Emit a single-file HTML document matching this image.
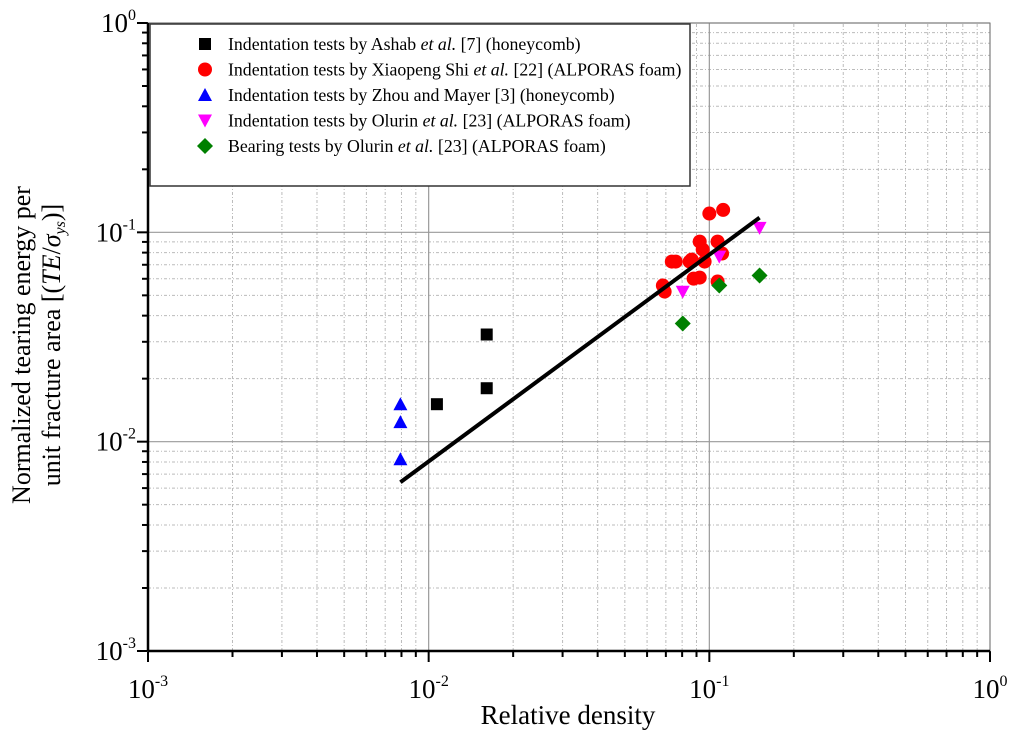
<!DOCTYPE html>
<html><head><meta charset="utf-8"><style>
html,body{margin:0;padding:0;background:#fff;}
svg text{font-family:"Liberation Serif",serif;}
</style></head><body>
<svg id="chart" width="1024" height="740" xmlns="http://www.w3.org/2000/svg">
<g id="grid"></g>
<g id="axes"></g>
<g id="marks"></g>
<g id="legend">
<rect x="150" y="24" width="540" height="162" fill="#fff" stroke="#333" stroke-width="1.5"/>
</g>
<text x="568" y="724" font-size="27" text-anchor="middle">Relative density</text>
<text transform="translate(30,345) rotate(-90)" font-size="26" text-anchor="middle">Normalized tearing energy per</text>
<text transform="translate(60,345) rotate(-90)" font-size="26" text-anchor="middle">unit fracture area [(<tspan font-style="italic">TE</tspan>/<tspan font-style="italic">σ</tspan><tspan font-style="italic" font-size="16" dy="5">ys</tspan><tspan dy="-5">)]</tspan></text>
</svg>
<script>
const ashabX=[0.0107,0.0161,0.0161];
const ashabY=[0.0151,0.0325,0.018];
const shiX=[0.0683,0.0693,0.0735,0.0759,0.0851,0.0879,0.0924,0.0947,0.0962,0.0924,0.107,0.111,0.107,0.100,0.112,0.0865];
const shiY=[0.0557,0.0521,0.0725,0.0725,0.0725,0.0601,0.0903,0.0827,0.0725,0.0608,0.0903,0.0792,0.0582,0.123,0.128,0.0741];
const zhouX=[0.00793,0.00793,0.00793];
const zhouY=[0.0151,0.0124,0.00824];
const olurinIX=[0.0804,0.1085,0.151];
const olurinIY=[0.052,0.0766,0.105];
const bearX=[0.0804,0.1085,0.151];
const bearY=[0.0367,0.0557,0.0622];
const fitX=[0.00793,0.151];
const fitY=[0.0064,0.1175];
const decades=[-3,-2,-1,0];
const tickExp=['-3','-2','-1','0'];

const NS='http://www.w3.org/2000/svg';
const X0=148,X1=990,Y0=651,Y1=23;
function xs(v){return X0+(Math.log10(v)+3)/3*(X1-X0);}
function ys(v){return Y0-(Math.log10(v)+3)/3*(Y0-Y1);}
function mk(tag,attrs,parent){const e=document.createElementNS(NS,tag);for(const k in attrs)e.setAttribute(k,attrs[k]);parent.appendChild(e);return e;}
const grid=document.getElementById('grid'),axes=document.getElementById('axes'),marks=document.getElementById('marks'),legend=document.getElementById('legend');
for(let d=-3;d<0;d++){for(let m=2;m<=9;m++){const v=m*Math.pow(10,d);
 let l=mk('line',{x1:xs(v),x2:xs(v),y1:Y0,y2:Y1,stroke:'#bbb','stroke-width':1,'stroke-dasharray':'3,2,1,2'},grid);
 
 
 l=mk('line',{x1:X0,x2:X1,y1:ys(v),y2:ys(v),stroke:'#bbb','stroke-width':1,'stroke-dasharray':'3,2,1,2'},grid);
 
 
 l=mk('line',{x1:xs(v),x2:xs(v),y1:Y0,y2:Y0+6,stroke:'#000','stroke-width':2},axes);
 
 
 l=mk('line',{x1:X0,x2:X0-6,y1:ys(v),y2:ys(v),stroke:'#000','stroke-width':2},axes);
 
 
}}
decades.forEach((d,i)=>{const v=Math.pow(10,d);
 let l=mk('line',{x1:xs(v),x2:xs(v),y1:Y0,y2:Y1,stroke:'#999','stroke-width':1.2},grid);
 
 
 l=mk('line',{x1:X0,x2:X1,y1:ys(v),y2:ys(v),stroke:'#999','stroke-width':1.2},grid);
 
 
 l=mk('line',{x1:xs(v),x2:xs(v),y1:Y0,y2:Y0+11,stroke:'#000','stroke-width':2},axes);
 
 
 l=mk('line',{x1:X0,x2:X0-11,y1:ys(v),y2:ys(v),stroke:'#000','stroke-width':2},axes);
 
 
 let t=mk('text',{x:xs(v),y:Y0+47,'font-size':27,'text-anchor':'middle'},axes);
 t.innerHTML='10<tspan font-size="16" dy="-12">'+tickExp[i]+'</tspan>';
 
 
 t=mk('text',{x:X0-12,y:ys(v)+9,'font-size':27,'text-anchor':'end'},axes);
 t.innerHTML='10<tspan font-size="16" dy="-12">'+tickExp[i]+'</tspan>';
 
 
});
let fr=mk('rect',{x:X0,y:Y1,width:X1-X0,height:Y0-Y1,fill:'none',stroke:'#777','stroke-width':1},axes);


let ax=mk('line',{x1:X0,x2:X1,y1:Y0,y2:Y0,stroke:'#000','stroke-width':2.5},axes);


ax=mk('line',{x1:X0,x2:X0,y1:Y0,y2:Y1,stroke:'#000','stroke-width':2.5},axes);


function marker(type,cx,cy,parent){let e;
 if(type==='sq')e=mk('rect',{x:cx-6,y:cy-6,width:12,height:12,fill:'#000'},parent);
 else if(type==='ci')e=mk('circle',{cx:cx,cy:cy,r:7,fill:'#f00'},parent);
 else if(type==='up')e=mk('polygon',{points:`${cx},${cy-7} ${cx-7},${cy+6} ${cx+7},${cy+6}`,fill:'#00f'},parent);
 else if(type==='dn')e=mk('polygon',{points:`${cx},${cy+7} ${cx-7},${cy-6} ${cx+7},${cy-6}`,fill:'#f0f'},parent);
 else e=mk('polygon',{points:`${cx},${cy-8} ${cx+8},${cy} ${cx},${cy+8} ${cx-8},${cy}`,fill:'#008000'},parent);
 return e;}
const series=[[shiX,shiY,'ci','point-shi'],[ashabX,ashabY,'sq','point-ashab'],[zhouX,zhouY,'up','point-zhou'],[olurinIX,olurinIY,'dn','point-olurin-indentation'],[bearX,bearY,'di','point-olurin-bearing']];
series.forEach(s=>{s[0].forEach((x,i)=>{const e=marker(s[2],xs(x),ys(s[1][i]),marks);
 
 });});
const fit=mk('line',{x1:xs(fitX[0]),y1:ys(fitY[0]),x2:xs(fitX[1]),y2:ys(fitY[1]),stroke:'#000','stroke-width':4},marks);


const legTypes=['sq','ci','up','dn','di'];
const legText=['Indentation tests by Ashab <tspan font-style="italic">et al.</tspan> [7] (honeycomb)','Indentation tests by Xiaopeng Shi <tspan font-style="italic">et al.</tspan> [22] (ALPORAS foam)','Indentation tests by Zhou and Mayer [3] (honeycomb)','Indentation tests by Olurin <tspan font-style="italic">et al.</tspan> [23] (ALPORAS foam)','Bearing tests by Olurin <tspan font-style="italic">et al.</tspan> [23] (ALPORAS foam)'];
legTypes.forEach((t,i)=>{const y=44+i*25.5;
 const g=mk('g',{},legend);
 
 
 marker(t,205,y,g);
 const tx=mk('text',{x:228,y:y+6,'font-size':17.8},g);
 tx.innerHTML=legText[i];});
</script>
</body></html>
